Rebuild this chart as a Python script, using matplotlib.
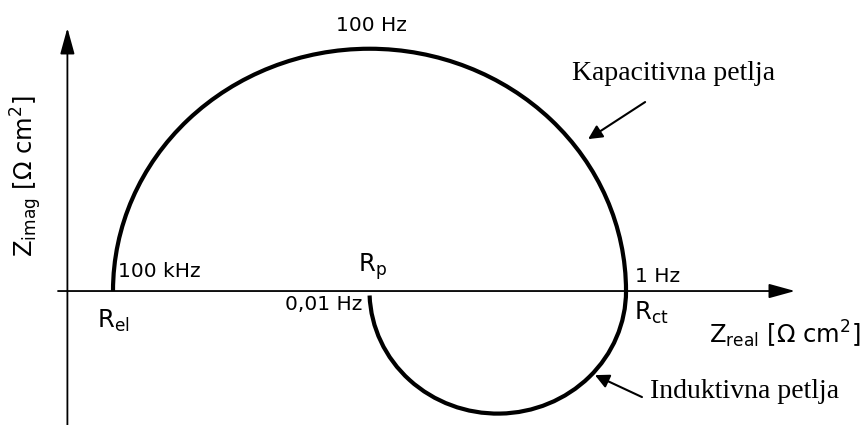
import matplotlib.pyplot as plt
from matplotlib.patches import Arc


# Nyquist schematic values (Z_real / Z_imag in Ω cm², arbitrary units)
R_EL = 20.0
R_P = 110.0
R_CT = 200.0
CAP_HEIGHT = 85.0      # top of capacitive loop
IND_DEPTH = 43.0       # bottom of inductive loop

FREQ_LABELS = ['100 kHz', '100 Hz', '1 Hz', '0,01 Hz']
LOOP_LABELS = ['Kapacitivna petlja', 'Induktivna petlja']

SANS = 'DejaVu Sans'
SERIF = 'Liberation Serif'


def axis_arrow(ax, start, tip):
    ax.annotate('', xy=tip, xytext=start,
                arrowprops=dict(arrowstyle='-|>,head_length=0.8,head_width=0.22',
                                mutation_scale=20, lw=1.3, color='black',
                                shrinkA=0, shrinkB=0))


def pointer_arrow(ax, start, tip):
    ax.annotate('', xy=tip, xytext=start,
                arrowprops=dict(arrowstyle='-|>,head_length=0.6,head_width=0.3',
                                mutation_scale=14, lw=1.5, color='black',
                                shrinkA=0, shrinkB=0))


def main():
    fig = plt.figure(figsize=(8.66, 4.25), dpi=100)
    ax = fig.add_axes([0, 0, 1, 1])
    ax.set_xlim(-19.65, 284.2)
    ax.set_ylim(-47.0, 102.1)
    ax.axis('off')

    # axes with arrowheads
    axis_arrow(ax, (0.7, 0), (259.3, 0))
    axis_arrow(ax, (4, -47.0), (4, 92.3))

    # capacitive loop (upper) and inductive loop (lower)
    cap_center = (R_EL + R_CT) / 2
    ax.add_patch(Arc((cap_center, 0), R_CT - R_EL, 2 * CAP_HEIGHT,
                     theta1=0, theta2=180, lw=3.0, color='black'))
    ind_center = (R_P + R_CT) / 2
    ax.add_patch(Arc((ind_center, 0), R_CT - R_P, 2 * IND_DEPTH,
                     theta1=182, theta2=360, lw=3.0, color='black'))

    # frequency labels
    fs = 14.5
    ax.text(R_EL + 1.6, 6.9, FREQ_LABELS[0], fontsize=fs, family=SANS,
            ha='left', va='center')
    ax.text(cap_center + 0.6, 93, FREQ_LABELS[1], fontsize=fs, family=SANS,
            ha='center', va='center')
    ax.text(R_CT + 3.2, 5.0, FREQ_LABELS[2], fontsize=fs, family=SANS,
            ha='left', va='center')
    ax.text(R_P - 2.6, -4.9, FREQ_LABELS[3], fontsize=fs, family=SANS,
            ha='right', va='center')

    # resistance labels
    rs = 17.5
    ax.text(R_EL - 5.6, -13.0, r'R$_{\mathregular{el}}$', fontsize=rs,
            family=SANS, ha='left', va='baseline')
    ax.text(R_P - 4.0, 6.7, r'R$_{\mathregular{p}}$', fontsize=rs,
            family=SANS, ha='left', va='baseline')
    ax.text(R_CT + 2.8, -10.2, r'R$_{\mathregular{ct}}$', fontsize=rs,
            family=SANS, ha='left', va='baseline')

    # axis titles
    ax.text(229.0, -18.2, r'Z$_{\mathregular{real}}$ [Ω cm$^{\mathregular{2}}$]',
            fontsize=17.5, family=SANS, ha='left', va='baseline')
    ax.text(-10.4, 40.4, r'Z$_{\mathregular{imag}}$ [Ω cm$^{\mathregular{2}}$]',
            fontsize=17.5, family=SANS, ha='center', va='center', rotation=90)

    # loop annotations
    ax.text(181.0, 74.0, LOOP_LABELS[0], fontsize=20, family=SERIF,
            ha='left', va='baseline')
    pointer_arrow(ax, (206.7, 66.3), (186.7, 53.3))
    ax.text(208.4, -37.4, LOOP_LABELS[1], fontsize=20, family=SERIF,
            ha='left', va='baseline')
    pointer_arrow(ax, (205.6, -37.2), (189.1, -29.5))

    fig.savefig('out.png', dpi=100, facecolor='white')
    plt.close(fig)


if __name__ == '__main__':
    main()
